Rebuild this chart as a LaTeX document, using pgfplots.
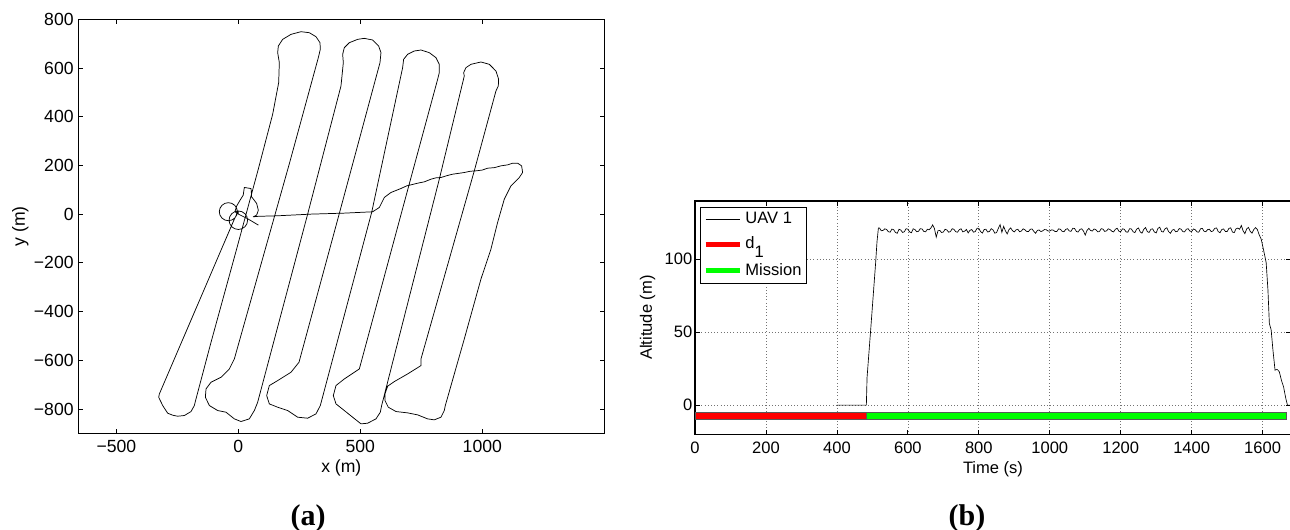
\documentclass[border=0pt]{standalone}
\usepackage{fontspec}
\setmainfont{Liberation Sans}
\newfontfamily\capfont{Liberation Serif}
\usepackage{pgfplots}
\pgfplotsset{compat=1.18}
\definecolor{mgreen}{RGB}{0,255,0}

% 1 px of the reference = 0.75pt
\begin{document}
\begin{tikzpicture}
\useasboundingbox (0,0) rectangle (967.5pt,-396.75pt);

% ---------- (a) trajectory ----------
\begin{axis}[
  scale only axis, width=394.5pt, height=310.5pt,
  at={(58.725pt,-324.975pt)}, anchor=south west,
  xmin=-656, xmax=1500, ymin=-900, ymax=800,
  xtick={-500,0,500,1000}, xticklabels={−500,0,500,1000},
  ytick={-800,-600,...,800},
  yticklabels={−800,−600,−400,−200,0,200,400,600,800},
  tick align=inside, major tick length=3.5pt,
  axis line style={line width=0.8pt}, every tick/.style={black, line width=0.6pt},
  tick label style={font=\fontsize{13.2}{15}\selectfont},
  label style={font=\fontsize{13.2}{15}\selectfont},
  xticklabel style={yshift=-1.5pt},
  xlabel={x (m)}, ylabel={y (m)},
  xlabel style={at={(axis description cs:0.5,-0.0838)}, anchor=center},
  ylabel style={at={(axis description cs:-0.11,0.5)}, anchor=center},
]
\addplot[black, line width=0.55pt, line join=round] coordinates {
 (82,-45) (40,-20) (0,0) (0,13)
 (-14.5,10.1) (-26.9,1.9) (-35.1,-10.5) (-38,-25) (-35.1,-39.5) (-26.9,-51.9)
 (-14.5,-60.1) (0,-63) (14.5,-60.1) (26.9,-51.9) (35.1,-39.5) (38,-25)
 (35.1,-10.5) (26.9,1.9) (14.5,10.1) (0,13) (-4,10)
 (-6.8,24.2) (-14.8,36.2) (-26.8,44.2) (-41,47) (-55.2,44.2) (-67.2,36.2)
 (-75.2,24.2) (-78,10) (-75.2,-4.2) (-67.2,-16.2) (-55.2,-24.2) (-41,-27)
 (-26.8,-24.2) (-14.8,-16.2) (-6.8,-4.2) (-4,10) (-10,-8) (-16.4,-20.5)
 (-323.7,-738.2) (-326.5,-751.9) (-310.1,-786.0) (-289.6,-817.5) (-268,-826) (-248.6,-829.8)
 (-221.3,-827.0) (-194.0,-810.6) (-180.3,-786.0) (-173.5,-758.7)
 (-112.0,-526.3) (-8.2,-147.6) (80.6,180.4) (140.7,410.1) (165.3,540.0) (168.0,622.0)
 (161.2,663.0) (163.9,690.3) (181.7,717.7) (215.8,738.2) (256.8,749.1) (291.0,745.0)
 (318.3,728.6) (334.7,704.0) (336.0,676.7) (327.8,642.5)
 (210.4,211.9) (-16.4,-594.6) (-36.9,-635.7)
 (-71.0,-669.8) (-112.0,-690.3) (-132.5,-717.7) (-135.2,-751.9) (-118.8,-786.0)
 (-84.7,-806.5) (-50.5,-813.4) (-16.4,-840.7) (10.9,-851.6) (45.1,-840.7)
 (65.6,-806.5) (79.2,-772.4)
 (284.1,0) (420.7,526.3) (430.3,622.0)
 (427.6,656.2) (434.4,683.5) (454.9,704.0) (489.0,717.7) (516.3,721.8) (550.5,715.0)
 (575.1,690.3) (584.6,663.0) (580.6,622.0)
 (413.9,2.7) (248.6,-608.3)
 (215.8,-649.3) (161.2,-683.5) (127.0,-704.0) (116.1,-745.0) (127.0,-779.2)
 (161.2,-792.9) (202.2,-806.5) (243.1,-833.9) (284.1,-838.0) (318.3,-820.2) (336.0,-786.0)
 (546.4,6.8) (673.4,601.5)
 (677.5,635.7) (693.9,656.2) (721.2,669.8) (748.6,673.9) (782.7,663.0) (810.0,642.5)
 (823.7,615.2) (823.7,581.0) (816.9,553.6)
 (696.7,109.4) (495.9,-635.7)
 (434.4,-676.7) (400.2,-704.0) (389.3,-745.0) (400.2,-779.2) (434.4,-806.5)
 (468.5,-833.9) (502.7,-861.2) (530.0,-858.5) (564.2,-840.7) (581.9,-813.4) (587.4,-786.0)
 (823.7,143.5) (926.1,567.3)
 (923.4,581.0) (933.0,601.5) (953.5,615.2) (994.4,624.7) (1028.6,615.2) (1055.9,587.8)
 (1066.9,553.6) (1065.5,526.3) (1055.9,505.8)
 (967.1,177.7) (748.6,-594.6)
 (748.6,-622.0) (693.9,-656.2) (639.3,-687.6) (612.0,-706.7) (601.0,-738.2)
 (601.0,-765.5) (614.7,-792.9) (646.1,-810.6) (693.9,-816.1) (734.9,-824.3)
 (775.9,-840.7) (803.2,-844.8) (830.5,-833.9) (844.2,-806.5) (848.3,-786.0)
 (926.1,-512.6) (994.4,-266.6) (1035.4,-143.5) (1062.7,-34.2) (1090.1,61.5)
 (1117.4,116.2) (1151.5,150.4) (1165.2,170.9) (1161.1,198.2) (1144.7,209.2)
 (1124.2,209.2) (1103.7,202.3)
 (1076.4,198.2) (1050,191) (1021.8,188.6) (1000,181) (974.0,177.7) (950,176) (926.1,170.9)
 (900,167) (878.3,164.0) (855,158) (830.5,150.4) (810,149) (789.5,143.5) (762.2,132.6)
 (735,127) (707.6,120.3) (690,116) (666.6,105.3) (625.6,88.9) (598.3,68.4) (577.8,27.3)
 (550.5,9.6) (434.4,4.1) (297.8,0) (161.2,-6.8) (82,-9) (61,-11)
 (75,-4) (82,16) (75,44) (54.5,71) (52,105) (24.5,109.5) (20,78) (7,57) (-7,33)
 (-14,10) (0,0)
};
\end{axis}

% ---------- (b) altitude ----------
\begin{axis}[
  scale only axis, width=447pt, height=175pt,
  at={(521.25pt,-325.725pt)}, anchor=south west,
  xmin=0, xmax=1680, ymin=-20, ymax=140,
  xtick={0,200,...,1600}, ytick={0,50,100},
  /pgf/number format/1000 sep={},
  tick align=inside, major tick length=3.5pt,
  axis line style={line width=0.8pt}, every tick/.style={black, line width=0.6pt},
  grid=major, major grid style={dotted, black!55, line width=0.5pt},
  /pgf/number format/assume math mode=true,
  tick label style={font=\fontsize{12.4}{14}\selectfont},
  label style={font=\fontsize{12.4}{14}\selectfont},
  xticklabel style={yshift=-2.5pt},
  yticklabel style={xshift=1.5pt},
  xlabel={Time (s)}, ylabel={Altitude (m)},
  xlabel style={at={(axis description cs:0.5,-0.151)}, anchor=center},
  ylabel style={at={(axis description cs:-0.0797,0.5)}, anchor=center},
  legend style={at={(axis description cs:0.0084,0.9756)}, anchor=north west,
    draw=black, line width=0.6pt, fill=white, inner sep=2pt,
    font=\fontsize{12.4}{14}\selectfont, row sep=4pt},
  legend cell align=left,
  legend image code/.code={\draw[#1] (0pt,0pt) -- (26pt,0pt);},
]
\addplot[fill=red, draw=black!65, line width=0.5pt, forget plot]
  coordinates {(0,-10) (0,-5) (483,-5) (483,-10) (0,-10)};
\addplot[fill=mgreen, draw=black!65, line width=0.5pt, forget plot]
  coordinates {(483,-10) (483,-5) (1668,-5) (1668,-10) (483,-10)};
\addplot[black, line width=0.5pt] coordinates {
 (400,0) (483,0) (485,19) (495,51) (509,97) (513,112) (517,121.5)
 (520,121.5) (525,119.6) (530,119.8) (535,120.9) (540,120.5) (545,118.9) (550,118.6)
 (555,120.7) (560,120.3) (565,118.4) (570,117.8) (575,120.6) (580,120.1) (585,118.4)
 (590,118.9) (595,121.0) (600,120.6) (605,118.8) (610,118.2) (615,120.9) (620,120.4)
 (625,118.9) (630,119.2) (635,121.0) (640,120.8) (645,119.1) (650,118.9) (655,120.6)
 (660,120.2) (665,121.5) (670,123.6) (675,121.0) (680,115.2) (685,119.6) (690,119.8)
 (695,118.4) (700,118.7) (705,120.6) (710,120.1) (715,118.6) (720,119.0) (725,121.0)
 (730,120.5) (735,118.9) (740,118.6) (745,120.3) (750,120.9) (755,118.8) (760,119.3)
 (765,120.5) (770,118.1) (775,119.9) (780,120.4) (785,118.6) (790,119.0) (795,121.3)
 (800,121.2) (805,119.0) (810,118.0) (815,120.4) (820,120.6) (825,118.7) (830,119.1)
 (835,121.0) (840,120.2) (845,117.9) (850,118.3) (855,121.2) (860,123.8) (865,118.5)
 (870,122.6) (875,119.5) (880,117.4) (885,120.3) (890,121.5) (895,119.6) (900,118.8)
 (905,120.2) (910,120.6) (915,118.9) (920,119.4) (925,120.9) (930,120.2) (935,119.1)
 (940,119.0) (945,120.6) (950,120.8) (955,119.2) (960,117.8) (965,119.8) (970,120.1)
 (975,119.0) (980,119.5) (985,120.4) (990,120.3) (995,119.4) (1000,119.4) (1005,120.2)
 (1010,120.0) (1015,119.0) (1020,119.1) (1025,120.9) (1030,120.6) (1035,119.2)
 (1040,118.9) (1045,120.5) (1050,121.0) (1055,119.4) (1060,119.2) (1065,121.3)
 (1070,121.1) (1075,119.1) (1080,118.7) (1085,120.5) (1090,120.9) (1095,119.4)
 (1100,116.6) (1105,119.8) (1110,121.2) (1115,119.8) (1120,119.4) (1125,120.8)
 (1130,120.3) (1135,118.9) (1140,119.0) (1145,121.0) (1150,120.7) (1155,119.1)
 (1160,119.5) (1165,120.9) (1170,120.4) (1175,119.2) (1180,118.8) (1185,120.6)
 (1190,121.3) (1195,119.2) (1200,119.0) (1205,120.9) (1210,120.6) (1215,118.8)
 (1220,118.6) (1225,121.0) (1230,120.8) (1235,118.9) (1240,118.3) (1245,120.7)
 (1250,121.5) (1255,118.8) (1260,117.9) (1265,120.6) (1270,121.8) (1275,119.0)
 (1280,118.4) (1285,120.6) (1290,120.9) (1295,118.7) (1300,118.1) (1305,121.2)
 (1310,122.0) (1315,119.1) (1320,118.7) (1325,121.0) (1330,121.6) (1335,119.0)
 (1340,117.8) (1345,119.9) (1350,120.5) (1355,118.9) (1360,119.2) (1365,121.1)
 (1370,120.7) (1375,119.0) (1380,118.8) (1385,120.6) (1390,121.0) (1395,119.3)
 (1400,119.1) (1405,120.8) (1410,120.3) (1415,118.8) (1420,118.6) (1425,120.9)
 (1430,121.2) (1435,119.2) (1440,118.9) (1445,120.4) (1450,120.6) (1455,119.0)
 (1460,119.4) (1465,121.2) (1470,121.5) (1475,119.0) (1480,118.2) (1485,120.5)
 (1490,120.8) (1495,119.1) (1500,119.0) (1505,121.2) (1510,121.6) (1515,118.7)
 (1520,118.3) (1525,120.9) (1530,121.4) (1535,120.6) (1540,123.2) (1545,119.5)
 (1550,117.6) (1555,120.8) (1560,121.9) (1565,119.2) (1570,117.9) (1575,120.4)
 (1580,121.7) (1585,120.5) (1590,117.0) (1596,113.8) (1603,106) (1610,97.7)
 (1615,79) (1619,56) (1624,51.7) (1629,38) (1635,24) (1641,24.5) (1647,23)
 (1653,17) (1659,12.6) (1665,5) (1670,0) (1680,0)
};
\addlegendentry{UAV 1}
\addlegendimage{red, line width=3.75pt}
\addlegendentry{\raisebox{0.3ex}{d}\raisebox{-0.7ex}{1}}
\addlegendimage{mgreen, line width=3.75pt}
\addlegendentry{Mission}
\end{axis}

\node[font=\capfont\bfseries\fontsize{22.5}{24}\selectfont, anchor=base]
  at (231pt,-393.75pt) {(a)};
\node[font=\capfont\bfseries\fontsize{22.5}{24}\selectfont, anchor=base]
  at (725.25pt,-393.75pt) {(b)};
\end{tikzpicture}
\end{document}
